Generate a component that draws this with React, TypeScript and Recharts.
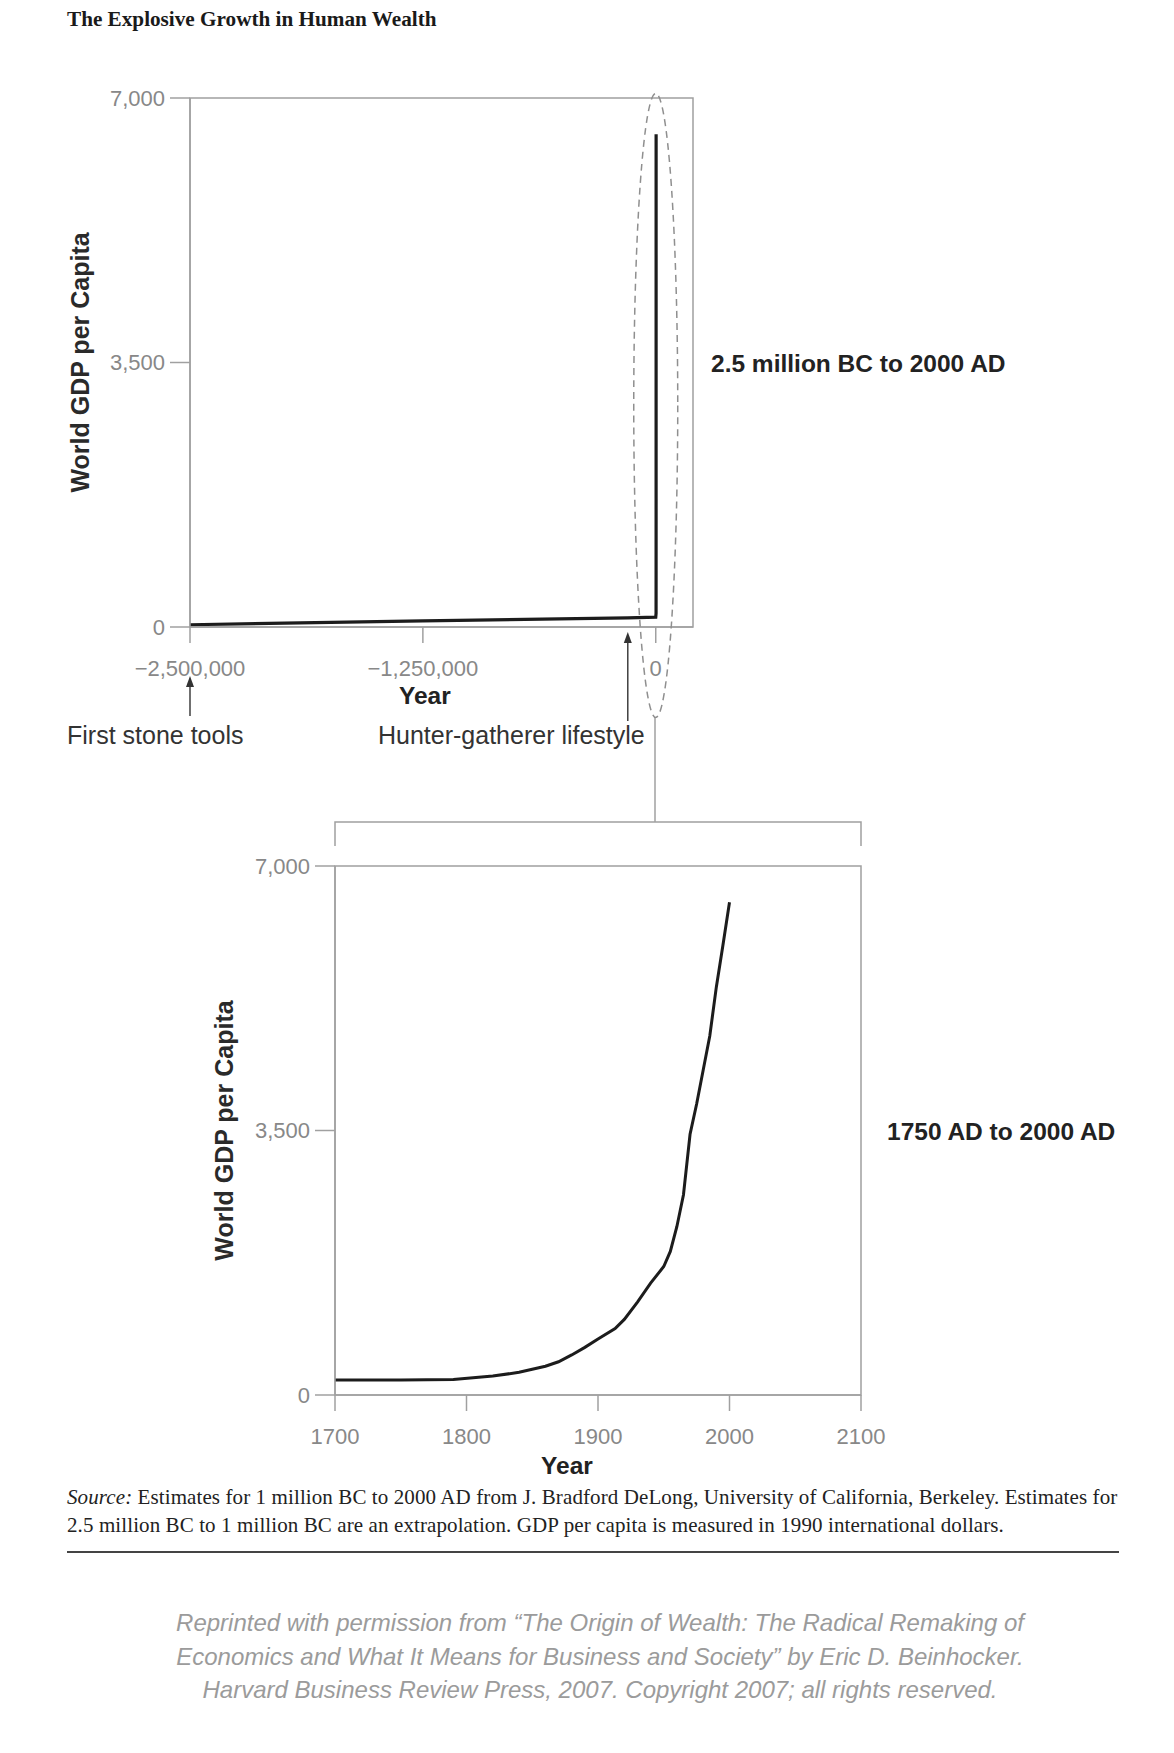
import React from "react";
import { LineChart, Line, XAxis, YAxis, ReferenceArea, ReferenceDot } from "recharts";

// 2.5 million BC to 2000 AD (the spike is squeezed into the last pixel)
const longYears = [-2500000, -1250000, -150000, 0, 1750, 1900, 1950, 2000];
const longGdp = [30, 80, 120, 130, 180, 750, 1700, 6520];
const longXTicks = [-2500000, -1250000, 0];

// 1700 AD to 2000 AD
const modernYears = [
  1700, 1750, 1790, 1820, 1840, 1860, 1870, 1880, 1890, 1900, 1913, 1920, 1930,
  1940, 1950, 1955, 1960, 1965, 1970, 1975, 1980, 1985, 1990, 1995, 2000,
];
const modernGdp = [
  200, 200, 205, 250, 300, 380, 440, 530, 630, 740, 880, 1000, 1230,
  1480, 1700, 1900, 2230, 2650, 3450, 3850, 4300, 4750, 5400, 5950, 6520,
];
const modernXTicks = [1700, 1800, 1900, 2000, 2100];

const gdpTicks = [0, 3500, 7000];

const SANS = "'Liberation Sans', Arial, Helvetica, sans-serif";
const SERIF = "'Liberation Serif', 'Times New Roman', serif";
const AXIS = "#a0a0a0";
const TICK = "#888888";
const INK = "#1c1c1c";
const NOTE = "#333333";

const fmtNum = (v: number) => (v < 0 ? "\u2212" : "") + Math.abs(v).toLocaleString("en-US");
const fmtYear = (v: number) => String(v);

const tickStyle = { fill: TICK, fontSize: 22, fontFamily: SANS };
const yLabelStyle = { textAnchor: "middle" as const, fontFamily: SANS, fontWeight: 700, fontSize: 25, fill: "#2a2a2a" };

// arrow pointing up at (cx, cy + tip), with a caption below it
function arrowNote(tip: number, tail: number, text: string, dx: number, anchor: "start" | "end") {
  return (p: any) => {
    const { cx, cy } = p;
    return (
      <g>
        <line x1={cx} y1={cy + tip + 8} x2={cx} y2={cy + tail} stroke={NOTE} strokeWidth={1.4} />
        <path d={`M${cx},${cy + tip} L${cx - 4},${cy + tip + 11} L${cx + 4},${cy + tip + 11} Z`} fill={NOTE} />
        <text x={cx + dx} y={cy + 117} textAnchor={anchor} fontFamily={SANS} fontSize={25} fill={NOTE}>
          {text}
        </text>
      </g>
    );
  };
}

function textNote(text: string, dx: number, dy: number, anchor: "start" | "middle", weight = 700) {
  return (p: any) => (
    <text x={p.cx + dx} y={p.cy + dy} textAnchor={anchor} fontFamily={SANS} fontWeight={weight} fontSize={24.5} fill="#222">
      {text}
    </text>
  );
}

const ellipseShape = (p: any) => (
  <ellipse cx={p.cx} cy={p.cy + 43} rx={22} ry={312} fill="none" stroke="#8f8f8f" strokeWidth={1.5} strokeDasharray="7 5" />
);

function LongRunChart() {
  const data = longYears.map((year, i) => ({ year, gdp: longGdp[i] }));
  return (
    <LineChart width={1174} height={760} data={data} margin={{ top: 98, right: 481, bottom: 93, left: 60 }}>
      <ReferenceArea x1={-2500000} x2={200000} y1={0} y2={7000} fill="none" stroke={AXIS} strokeWidth={1.5} />
      <XAxis
        dataKey="year"
        type="number"
        domain={[-2500000, 200000]}
        ticks={longXTicks}
        tickFormatter={fmtNum}
        height={40}
        tickSize={16}
        tickMargin={17}
        stroke={AXIS}
        strokeWidth={1.5}
        tick={tickStyle}
        interval={0}
      />
      <YAxis
        type="number"
        domain={[0, 7000]}
        ticks={gdpTicks}
        tickFormatter={fmtNum}
        width={130}
        tickSize={20}
        tickMargin={5}
        stroke={AXIS}
        strokeWidth={1.5}
        tick={tickStyle}
        label={{ value: "World GDP per Capita", angle: -90, position: "insideLeft", offset: 20, style: yLabelStyle }}
      />
      <Line type="linear" dataKey="gdp" stroke={INK} strokeWidth={3.2} dot={false} isAnimationActive={false} />
      <ReferenceDot x={0} y={3500} r={0} shape={ellipseShape} />
      <ReferenceDot x={-2500000} y={0} r={0} shape={arrowNote(49, 89, "First stone tools", -123, "start")} />
      <ReferenceDot x={-150000} y={0} r={0} shape={arrowNote(5, 94, "Hunter-gatherer lifestyle", 17, "end")} />
      <ReferenceDot x={-1250000} y={0} r={0} shape={textNote("Year", 2, 77, "middle")} />
      <ReferenceDot x={200000} y={3500} r={0} shape={textNote("2.5 million BC to 2000 AD", 18, 9, "start")} />
    </LineChart>
  );
}

function ModernChart() {
  const data = modernYears.map((year, i) => ({ year, gdp: modernGdp[i] }));
  return (
    <LineChart width={1174} height={760} data={data} margin={{ top: 106, right: 313, bottom: 85, left: 205 }}>
      <ReferenceArea x1={1700} x2={2100} y1={0} y2={7000} fill="none" stroke={AXIS} strokeWidth={1.5} />
      <XAxis
        dataKey="year"
        type="number"
        domain={[1700, 2100]}
        ticks={modernXTicks}
        tickFormatter={fmtYear}
        height={40}
        tickSize={16}
        tickMargin={17}
        stroke={AXIS}
        strokeWidth={1.5}
        tick={tickStyle}
        interval={0}
      />
      <YAxis
        type="number"
        domain={[0, 7000]}
        ticks={gdpTicks}
        tickFormatter={fmtNum}
        width={130}
        tickSize={20}
        tickMargin={5}
        stroke={AXIS}
        strokeWidth={1.5}
        tick={tickStyle}
        label={{ value: "World GDP per Capita", angle: -90, position: "insideLeft", offset: 19, style: yLabelStyle }}
      />
      <Line type="linear" dataKey="gdp" stroke={INK} strokeWidth={3} dot={false} isAnimationActive={false} />
      <ReferenceDot x={1900} y={0} r={0} shape={textNote("Year", -31, 79, "middle")} />
      <ReferenceDot x={2100} y={3500} r={0} shape={textNote("1750 AD to 2000 AD", 26, 9, "start")} />
    </LineChart>
  );
}

export default function App() {
  return (
    <div style={{ position: "absolute", left: 0, top: 0, width: 1174, height: 1753, background: "#fff" }}>
      <div
        style={{
          position: "absolute",
          left: 67,
          top: 7,
          fontFamily: SERIF,
          fontWeight: 700,
          fontSize: 21.2,
          lineHeight: "24px",
          color: "#1a1a1a",
          whiteSpace: "nowrap",
        }}
      >
        The Explosive Growth in Human Wealth
      </div>

      <div style={{ position: "absolute", left: 0, top: 0 }}>
        <LongRunChart />
      </div>
      <div style={{ position: "absolute", left: 0, top: 760 }}>
        <ModernChart />
      </div>

      {/* zoom connector from the dashed ellipse down to the lower chart */}
      <svg width={1174} height={1753} style={{ position: "absolute", left: 0, top: 0, pointerEvents: "none" }}>
        <g stroke={AXIS} strokeWidth={1.5} fill="none">
          <line x1={655} y1={718} x2={655} y2={822} />
          <polyline points="335,846 335,822 861,822 861,846" />
        </g>
      </svg>

      <div
        style={{
          position: "absolute",
          left: 67,
          top: 1483,
          fontFamily: SERIF,
          fontSize: 21,
          letterSpacing: "0.1px",
          lineHeight: "28px",
          color: "#222",
          whiteSpace: "nowrap",
        }}
      >
        <i>Source:</i> Estimates for 1 million BC to 2000 AD from J. Bradford DeLong, University of California, Berkeley. Estimates for
        <br />
        2.5 million BC to 1 million BC are an extrapolation. GDP per capita is measured in 1990 international dollars.
      </div>
      <div style={{ position: "absolute", left: 67, top: 1551, width: 1052, height: 2, background: "#444" }} />

      <div
        style={{
          position: "absolute",
          left: 0,
          top: 1606,
          width: 1200,
          textAlign: "center",
          fontFamily: SANS,
          fontStyle: "italic",
          fontSize: 24,
          lineHeight: "33.5px",
          color: "#9b9b9b",
          whiteSpace: "nowrap",
        }}
      >
        Reprinted with permission from “The Origin of Wealth: The Radical Remaking of
        <br />
        Economics and What It Means for Business and Society” by Eric D. Beinhocker.
        <br />
        Harvard Business Review Press, 2007. Copyright 2007; all rights reserved.
      </div>
    </div>
  );
}
